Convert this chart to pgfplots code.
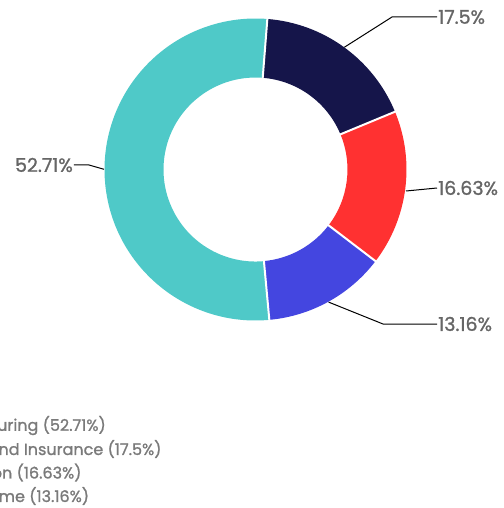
\documentclass[border=0pt]{standalone}
\usepackage{pgfplots}
\usepackage{pgfplotstable}
\pgfplotsset{compat=1.18}
\usepackage{fontspec}
\setmainfont{Poppins}[FakeBold=1.2]
\newfontfamily\legfont{Poppins}
\definecolor{cnavy}{HTML}{15154A}
\definecolor{cred}{HTML}{FF3131}
\definecolor{cblue}{HTML}{4446E0}
\definecolor{cteal}{HTML}{4FC9C8}
\definecolor{lblgray}{HTML}{666666}
\definecolor{leggray}{HTML}{7A7A7A}
\pgfplotstableread{
value color
17.5  cnavy
16.63 cred
13.16 cblue
52.71 cteal
}\data
\begin{document}
\begin{tikzpicture}
\useasboundingbox (-255.5pt,-338.5pt) rectangle (247.5pt,169.5pt);
\begin{axis}[at={(0pt,0pt)}, anchor=origin, width=302pt, height=302pt, scale only axis,
  xmin=-1, xmax=1, ymin=-1, ymax=1, axis lines=none, clip=false]
\def\startang{85.5}
\pgfplotsforeachungrouped \i in {0,1,2,3}{%
  \pgfplotstablegetelem{\i}{value}\of\data \let\v\pgfplotsretval
  \pgfplotstablegetelem{\i}{color}\of\data \let\col\pgfplotsretval
  \pgfmathsetmacro\endang{\startang-3.6*\v}%
  \edef\tmp{\noexpand\fill[\col] (axis cs:{cos(\startang)},{sin(\startang)}) arc[start angle=\startang, end angle=\endang, radius=151pt] -- (axis cs:{0.609*cos(\endang)},{0.609*sin(\endang)}) arc[start angle=\endang, end angle=\startang, radius=92pt] -- cycle;}%
  \tmp
  \global\let\startang\endang
}
\def\startang{85.5}
\pgfplotsforeachungrouped \i in {0,1,2,3}{%
  \pgfplotstablegetelem{\i}{value}\of\data \let\v\pgfplotsretval
  \pgfmathsetmacro\endang{\startang-3.6*\v}%
  \edef\tmp{\noexpand\draw[white, line width=2pt] (axis cs:{0.59*cos(\endang)},{0.59*sin(\endang)}) -- (axis cs:{1.02*cos(\endang)},{1.02*sin(\endang)});}%
  \tmp
  \global\let\startang\endang
}
\end{axis}
% leader lines
\draw[black, line width=1pt] (88.8pt,122.2pt) -- (136.5pt,152.5pt) -- (181.5pt,152.5pt);
\draw[black, line width=1pt] (150.5pt,-21.5pt) -- (181.5pt,-18.5pt);
\draw[black, line width=1pt] (73.1pt,-132.6pt) -- (127.5pt,-154.5pt) -- (181.5pt,-154.5pt);
\draw[black, line width=1pt] (-151.5pt,0.2pt) -- (-166.5pt,4.5pt) -- (-181.5pt,4.5pt);
% labels
\begin{scope}[every node/.style={inner sep=0pt, text=lblgray, font=\fontsize{19}{22}\selectfont}]
\node[anchor=west] at (182.5pt,152.5pt) {17.5\%};
\node[anchor=west] at (182.5pt,-18.5pt) {16.63\%};
\node[anchor=west] at (182.5pt,-154.5pt) {13.16\%};
\node[anchor=east] at (-182.5pt,4.5pt) {52.71\%};
\end{scope}
% legend
\begin{scope}[every node/.style={inner sep=0pt, text=leggray, font=\fontsize{16}{19}\selectfont, anchor=east}]
\node at (-149.5pt,-256pt) {Manufacturing (52.71\%)};
\node at (-93.8pt,-279.5pt) {Finance and Insurance (17.5\%)};
\node at (-173.8pt,-303pt) {Information (16.63\%)};
\node at (-166.2pt,-326.5pt) {Income (13.16\%)};
\end{scope}
\end{tikzpicture}
\end{document}
